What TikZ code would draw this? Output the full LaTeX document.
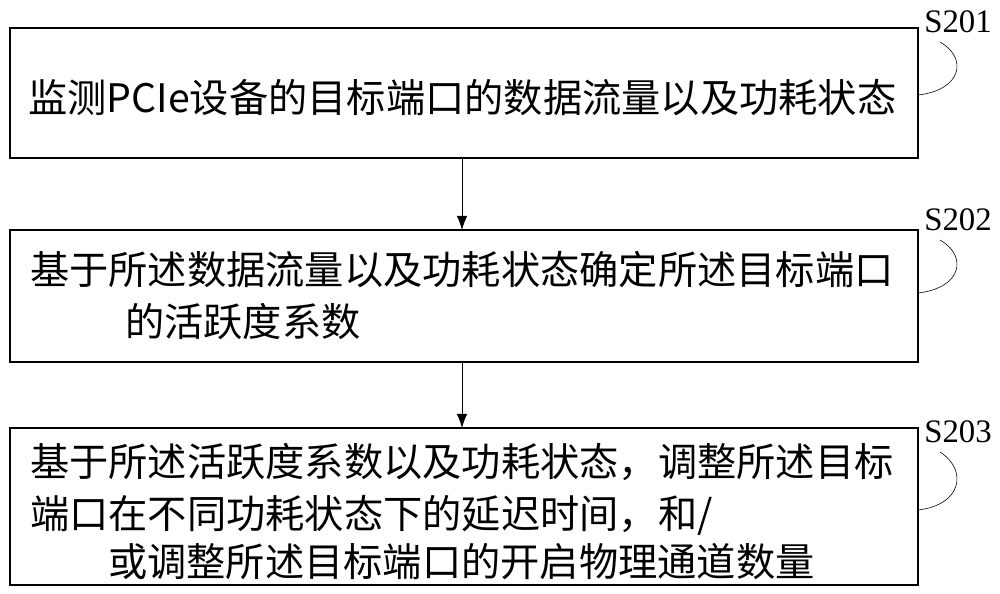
\documentclass[tikz,border=0pt]{standalone}
\usepackage{fontspec}
\newfontfamily\cjk{Noto Sans CJK SC}
\setmainfont{Liberation Serif}
\usetikzlibrary{arrows.meta}
\begin{document}
\begin{tikzpicture}[x=0.03cm,y=-0.03cm,
  box/.style={draw,line width=0.9pt},
  txt/.style={font=\cjk\fontsize{33.5}{36}\selectfont,anchor=west,inner sep=0},
  lab/.style={font=\fontsize{28}{30}\selectfont,inner sep=0},
  arr/.style={-{Latex[length=12pt,width=9pt]},line width=0.8pt}]
\useasboundingbox (0,0) rectangle (1000,594);
\draw[box] (10,28) rectangle (918,158);
\draw[box] (10,230) rectangle (918,362);
\draw[box] (10,428) rectangle (918,585);
\node[txt] (t1) at (28,98) {监测PCIe设备的目标端口的数据流量以及功耗状态};
\node[txt] (t2a) at (30,270) {基于所述数据流量以及功耗状态确定所述目标端口};
\node[txt] (t2b) at (125,322) {的活跃度系数};
\node[txt] (t3a) at (30,462) {基于所述活跃度系数以及功耗状态，调整所述目标};
\node[txt] (t3b) at (30,515) {端口在不同功耗状态下的延迟时间，和/};
\node[txt] (t3c) at (108,562) {或调整所述目标端口的开启物理通道数量};
\coordinate (b1) at (462,158); \coordinate (b2t) at (462,230);
\coordinate (b2) at (462,362); \coordinate (b3t) at (462,428);
\draw[arr] (b1) -- (b2t);
\draw[arr] (b2) -- (b3t);
\node[lab] (s1) at (958,22) {S201};
\node[lab] (s2) at (958,220) {S202};
\node[lab] (s3) at (958,432) {S203};
\draw[line width=0.5pt] (940,42) .. controls (968,58) and (962,90) .. (918,95);
\draw[line width=0.5pt] (940,240) .. controls (968,256) and (962,288) .. (918,293);
\draw[line width=0.5pt] (940,452) .. controls (968,470) and (962,505) .. (918,510);
\end{tikzpicture}
\end{document}
